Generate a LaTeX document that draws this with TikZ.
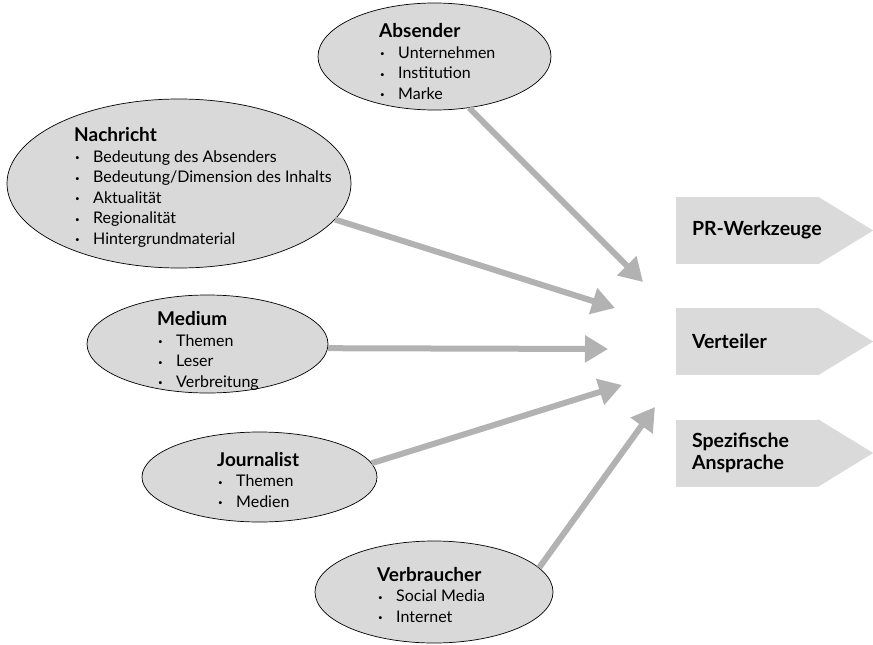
\documentclass[tikz,border=0pt]{standalone}
\usepackage{fontspec}
\setmainfont{Lato}
\usetikzlibrary{arrows.meta, shapes.geometric}
\definecolor{bubblegray}{HTML}{D9D9D9}
\definecolor{chevgray}{HTML}{DADADA}
\definecolor{arrowgray}{HTML}{B2B2B2}
\tikzset{
	bubble/.style={ellipse, draw=black, line width=0.7pt, fill=bubblegray, inner sep=0pt}
}
\tikzset{
	bubbletext/.style={align=left, inner sep=0pt, anchor=base west, font=\fontsize{16}{20.5}\selectfont}
}
\tikzset{
	feed/.style={draw=arrowgray, line width=6pt, -{Triangle[length=23pt,width=26pt]}}
}
\tikzset{
	chevbody/.style={rectangle, fill=chevgray, minimum width=142pt, minimum height=67pt, inner sep=0pt}
}
\tikzset{
	chevtext/.style={align=left, inner sep=0pt, anchor=west, font=\fontsize{19.5}{22}\selectfont\bfseries}
}
\newcommand{\ttl}[1]{{\fontsize{19}{20}\selectfont\bfseries #1}}
\newcommand{\itm}[1]{\makebox[19pt][l]{\hspace{1pt}\raisebox{1.5pt}{\fontsize{8}{8}\selectfont\textbullet}}#1}

\begin{document}
\begin{tikzpicture}[x=1pt, y=-1pt]
  \useasboundingbox (0,0) rectangle (873,645);
  % sources
  \node[bubble, minimum width=233pt, minimum height=107pt] (absender) at (434.5,56.5) {};
  \node[bubble, minimum width=344pt, minimum height=169pt] (nachricht) at (179,183.5) {};
  \node[bubble, minimum width=241pt, minimum height=98pt] (medium) at (207.5,344) {};
  \node[bubble, minimum width=235pt, minimum height=90pt] (journalist) at (259.5,477) {};
  \node[bubble, minimum width=238pt, minimum height=102pt] (verbraucher) at (434,592) {};
  \node[bubbletext] (absender-txt) at (379,99) {\ttl{Absender}\\ \itm{Unternehmen}\\ \itm{Institution}\\ \itm{Marke}};
  \node[bubbletext] (nachricht-txt) at (74,244) {\ttl{Nachricht}\\ \itm{Bedeutung des Absenders}\\ \itm{Bedeutung/Dimension des Inhalts}\\ \itm{Aktualität}\\ \itm{Regionalität}\\ \itm{Hintergrundmaterial}};
  \node[bubbletext] (medium-txt) at (157,387) {\ttl{Medium}\\ \itm{Themen}\\ \itm{Leser}\\ \itm{Verbreitung}};
  \node[bubbletext] (journalist-txt) at (217,507) {\ttl{Journalist}\\ \itm{Themen}\\ \itm{Medien}};
  \node[bubbletext] (verbraucher-txt) at (377,622) {\ttl{Verbraucher}\\ \itm{Social Media}\\ \itm{Internet}};
  % arrow tips
  \coordinate (tipA) at (643,282);
  \coordinate (tipB) at (615,308);
  \coordinate (tipC) at (608,349);
  \coordinate (tipD) at (622,385);
  \coordinate (tipE) at (655,407);
  \draw[feed] (absender.-56) -- (tipA);
  \draw[feed] (nachricht.-13) -- (tipB);
  \draw[feed] (medium.-2) -- (tipC);
  \draw[feed] (journalist.7) -- (tipD);
  \draw[feed] (verbraucher.13) -- (tipE);
  % results
  \node[chevbody] (werkzeuge) at (747,230.5) {};
  \node[chevbody] (verteiler) at (747,341.5) {};
  \node[chevbody] (ansprache) at (747,453) {};
  \fill[chevgray] (werkzeuge.north east) -- ([xshift=55pt]werkzeuge.east) -- (werkzeuge.south east) -- cycle;
  \fill[chevgray] (verteiler.north east) -- ([xshift=55pt]verteiler.east) -- (verteiler.south east) -- cycle;
  \fill[chevgray] (ansprache.north east) -- ([xshift=55pt]ansprache.east) -- (ansprache.south east) -- cycle;
  \node[chevtext] (werkzeuge-txt) at ([xshift=16pt]werkzeuge.west) {PR-Werkzeuge};
  \node[chevtext] (verteiler-txt) at ([xshift=16pt]verteiler.west) {Verteiler};
  \node[chevtext] (ansprache-txt) at ([xshift=16pt]ansprache.west) {Spezifische\\Ansprache};
\end{tikzpicture}
\end{document}
